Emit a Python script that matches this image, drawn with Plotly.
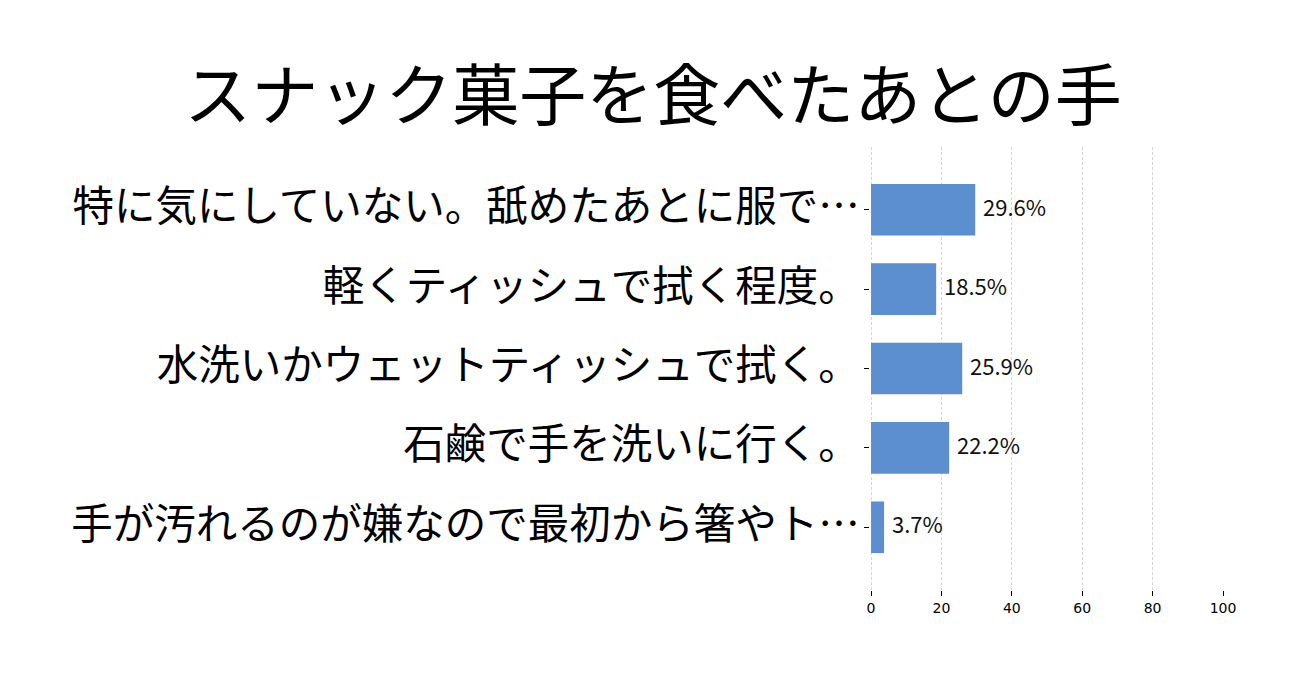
import plotly.graph_objects as go

title = "スナック菓子を食べたあとの手"
categories = [
    "特に気にしていない。舐めたあとに服で…",
    "軽くティッシュで拭く程度。",
    "水洗いかウェットティッシュで拭く。",
    "石鹸で手を洗いに行く。",
    "手が汚れるのが嫌なので最初から箸やト…",
]
values = [29.6, 18.5, 25.9, 22.2, 3.7]
labels = [f"{v:.1f}%" for v in values]
x_ticks = [0, 20, 40, 60, 80, 100]

FONT = "Noto Sans CJK JP"

fig = go.Figure(
    go.Bar(
        x=values,
        y=categories,
        orientation="h",
        marker=dict(color="#5B8FD0", line=dict(width=0)),
        width=0.65,
        cliponaxis=False,
    )
)

for v, c, t in zip(values, categories, labels):
    fig.add_annotation(
        x=v, y=c, text=t, showarrow=False,
        xanchor="left", yanchor="middle", xshift=6, yshift=4,
        font=dict(family=FONT, size=22, color="#111111"),
    )

fig.update_layout(
    width=1306,
    height=683,
    paper_bgcolor="white",
    plot_bgcolor="white",
    margin=dict(l=870, r=83, t=147, b=93),
    showlegend=False,
    title=dict(
        text=title,
        x=0.5,
        xanchor="center",
        y=0.858,
        yanchor="middle",
        font=dict(family=FONT, size=67, color="#000000"),
    ),
    xaxis=dict(
        range=[-0.3, 100],
        tickvals=x_ticks,
        showgrid=True,
        gridcolor="#d6d6d6",
        griddash="3px,2px",
        gridwidth=1,
        zeroline=False,
        showline=False,
        ticks="outside",
        ticklen=5,
        tickcolor="#000000",
        tickfont=dict(family="DejaVu Sans", size=14, color="#000000"),
    ),
    yaxis=dict(
        categoryorder="array",
        categoryarray=categories,
        range=[4.79, -0.79],
        showgrid=False,
        zeroline=False,
        showline=False,
        ticks="outside",
        ticklen=5,
        tickcolor="#000000",
        ticklabelstandoff=-4,
        ticklabelshift=3,
        tickfont=dict(family=FONT, size=41.5, color="#000000"),
    ),
)

fig.write_html("out.html")
